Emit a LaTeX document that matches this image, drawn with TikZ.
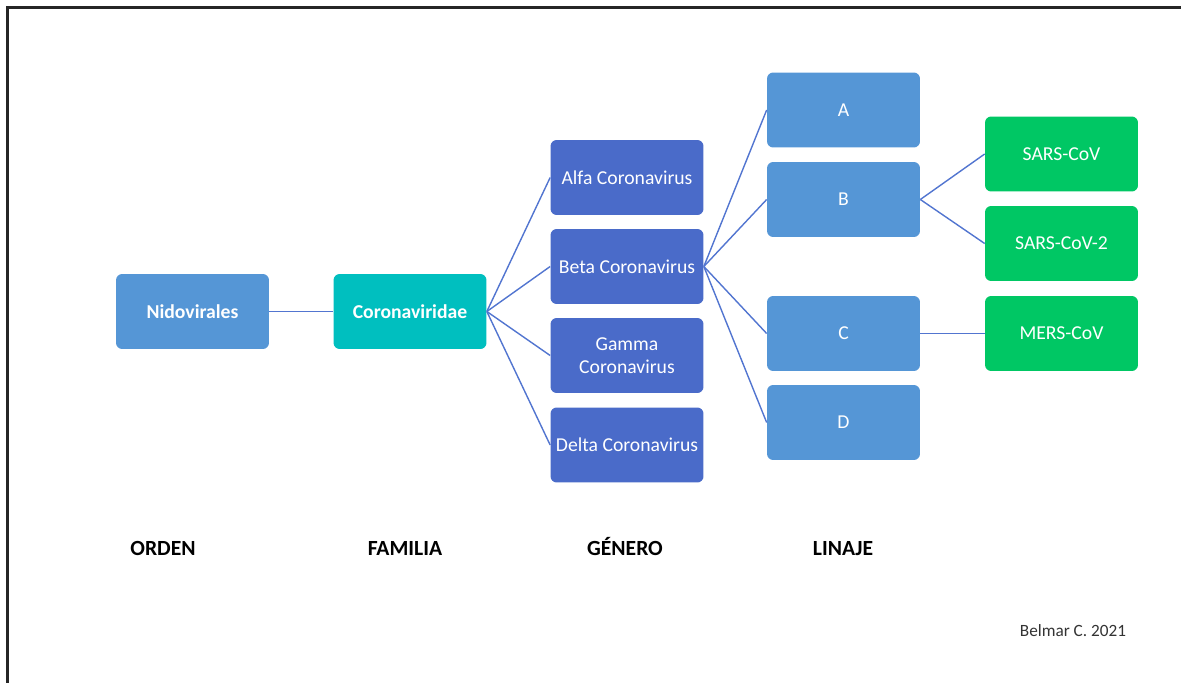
\documentclass[tikz,border=0pt]{standalone}
\usepackage{fontspec}
\setmainfont{Carlito}
\usetikzlibrary{positioning}

\definecolor{ordenblue}{HTML}{5596D6}
\definecolor{famteal}{HTML}{00BFBF}
\definecolor{genblue}{HTML}{4A6BC9}
\definecolor{cepagreen}{HTML}{00C764}
\definecolor{linkblue}{HTML}{5275D0}

\begin{document}
\begin{tikzpicture}[
    x=0.02cm, y=-0.02cm,
    box/.style={rectangle, rounded corners=3.5pt, minimum width=3.06cm, minimum height=1.5cm, align=center, text=white, font=\fontsize{11.2}{13}\selectfont, inner sep=1pt},
    head/.style={anchor=base, font=\fontsize{12.3}{14}\selectfont\bfseries, text=black},
    line/.style={draw=linkblue, line width=0.8pt}
]
    \useasboundingbox (0,0) rectangle (1181,683);
    \draw[line width=1.2pt, black!85] (7.5,683) -- (7.5,7.5) -- (1181,7.5);

    % Nodes
    \node [box, fill=ordenblue, font=\fontsize{11.2}{13}\selectfont\bfseries] (nido) at (192.5,311.5) {Nidovirales};
    \node [box, fill=famteal, font=\fontsize{11.2}{13}\selectfont\bfseries] (corona) at (410,311.5) {Coronaviridae};

    \node [box, fill=genblue] (alfa) at (627,177.5) {Alfa Coronavirus};
    \node [box, fill=genblue] (beta) at (627,266.5) {Beta Coronavirus};
    \node [box, fill=genblue] (gamma) at (627,355.5) {Gamma\\Coronavirus};
    \node [box, fill=genblue] (delta) at (627,445) {Delta Coronavirus};

    \node [box, fill=ordenblue] (linA) at (843.5,110) {A};
    \node [box, fill=ordenblue] (linB) at (843.5,199.5) {B};
    \node [box, fill=ordenblue] (linC) at (843.5,333.5) {C};
    \node [box, fill=ordenblue] (linD) at (843.5,422.5) {D};

    \node [box, fill=cepagreen] (sars) at (1061.5,154) {SARS-CoV};
    \node [box, fill=cepagreen] (sars2) at (1061.5,243.5) {SARS-CoV-2};
    \node [box, fill=cepagreen] (mers) at (1061.5,333.5) {MERS-CoV};

    % Labels
    \node [head] (orden) at (163,555) {ORDEN};
    \node [head] (familia) at (405,555) {FAMILIA};
    \node [head] (genero) at (625,555) {GÉNERO};
    \node [head] (linaje) at (843,555) {LINAJE};
    \node [anchor=base, font=\fontsize{9.8}{11}\selectfont, text=black!80] (autor) at (1073,636) {Belmar C. 2021};

    % Connections
    \path [line] (nido) -- (corona);
    \foreach \g in {alfa, beta, gamma, delta}
        \path [line] (corona.east) -- (\g.west);
    \foreach \l in {linA, linB, linC, linD}
        \path [line] (beta.east) -- (\l.west);
    \path [line] (linB.east) -- (sars.west);
    \path [line] (linB.east) -- (sars2.west);
    \path [line] (linC) -- (mers);

\end{tikzpicture}
\end{document}
